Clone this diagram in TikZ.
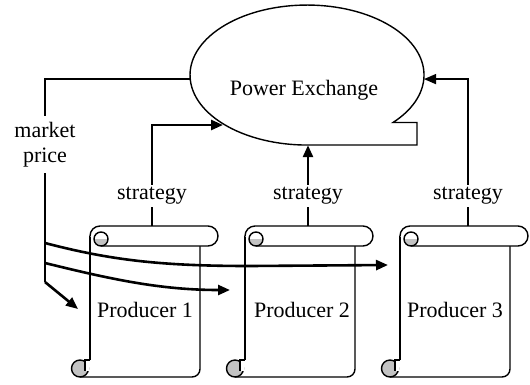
\documentclass[tikz,border=0pt]{standalone}
\usepackage{fontspec}
\setmainfont{Liberation Serif}
\usetikzlibrary{arrows.meta}
\usetikzlibrary{positioning}
\usetikzlibrary{shapes.geometric}
\definecolor{curlgray}{RGB}{195,195,195}
\tikzset{
  scroll/.pic={
    % body
    \draw[pic actions] (110,20) -- (110,143) arc[start angle=0,end angle=90,radius=8] -- (-10,151);
    \draw[pic actions] (0,10) -- (0,134);
    % bottom curl
    \draw[pic actions,fill=curlgray] (-10,142.5) circle[radius=8.5];
    \fill[white] (-5,134) rectangle (-1.4,145);
    \draw[pic actions] (0,134) -- (-5,134) -- (-5,145);
    % top bar
    \draw[pic actions,fill=white] (0,10) arc[start angle=180,end angle=270,radius=10]
      -- (118,0) arc[start angle=-90,end angle=90,radius=10] -- (11,20);
    % top curl
    \fill[curlgray] (4,13) arc[start angle=180,end angle=0,radius=7] -- cycle;
    \draw[pic actions] (11,13) circle[radius=7];
  },
}

\begin{document}
\begin{tikzpicture}[x=1pt,y=-1pt,
    thin line/.style={line width=1.4pt},
    thick line/.style={line width=2.6pt},
    tip/.style={-{Triangle[length=12pt,width=10pt]}},
    txt/.style={font=\fontsize{22}{25}\selectfont,inner sep=2pt},
  ]
  \useasboundingbox (0,0) rectangle (530,384);
  %POWER EXCHANGE
  \node[ellipse,minimum width=234pt,minimum height=140pt,inner sep=0pt] (PX) at (307,75) {};
  \draw[thin line] (393,122.5) arc[start angle=42.7,end angle=-270,x radius=117,y radius=70]
    -- (417,145) -- (417,122.5) -- cycle;
  \node[txt] (PXtext) at (304,90) {Power Exchange};

  %PRODUCERS
  \foreach \x [count=\i] in {90,245,400}{
    \pic[thin line] at (\x,226) {scroll};
  }
  \node[txt] (P1) at (145,310) {Producer 1};
  \node[txt] (P2) at (302,310) {Producer 2};
  \node[txt] (P3) at (455,310) {Producer 3};
  \coordinate (P1top) at (152,226);
  \coordinate (P2top) at (308,226);
  \coordinate (P3top) at (468,226);
  \coordinate (P1in) at (78,309);
  \coordinate (P2in) at (230,290);
  \coordinate (P3in) at (388,265);

  %MARKET PRICE
  \node[txt,align=center,inner sep=6pt] (MP) at (45,144.5) {market\\price};
  \draw[thin line] (PX.182) -- (PX.182 -| MP) -- (MP.north);
  \coordinate (MPbend) at (45,282);
  \coordinate (C1) at (45,243);
  \coordinate (C2) at (45,263);
  \draw[thin line] (MP.south) -- (MPbend);
  \draw[thick line,tip] (MPbend) -- (P1in);
  \draw[thick line,tip] (C1) .. controls (110,260) and (160,266) .. (250,266) -- (P3in);
  \draw[thick line,tip] (C2) .. controls (110,279) and (160,290) .. (P2in);

  %STRATEGY
  \node[txt] (S1) at (152,196) {strategy};
  \node[txt] (S2) at (308,196) {strategy};
  \node[txt] (S3) at (468,196) {strategy};
  \coordinate (S1turn) at (152,125);
  \coordinate (PXin1) at (223,125);
  \draw[thin line] (P1top) -- (S1.south);
  \draw[thin line] (P2top) -- (S2.south);
  \draw[thin line] (P3top) -- (S3.south);
  \draw[thick line,tip] (S1.north) -- (S1turn) -- (PXin1);
  \draw[thick line,tip] (S2.north) -- (S2.north |- PX.south);
  \draw[thin line,tip] (S3.north) -- (S3.north |- PX.-2) -- (PX.-2);
\end{tikzpicture}
\end{document}
